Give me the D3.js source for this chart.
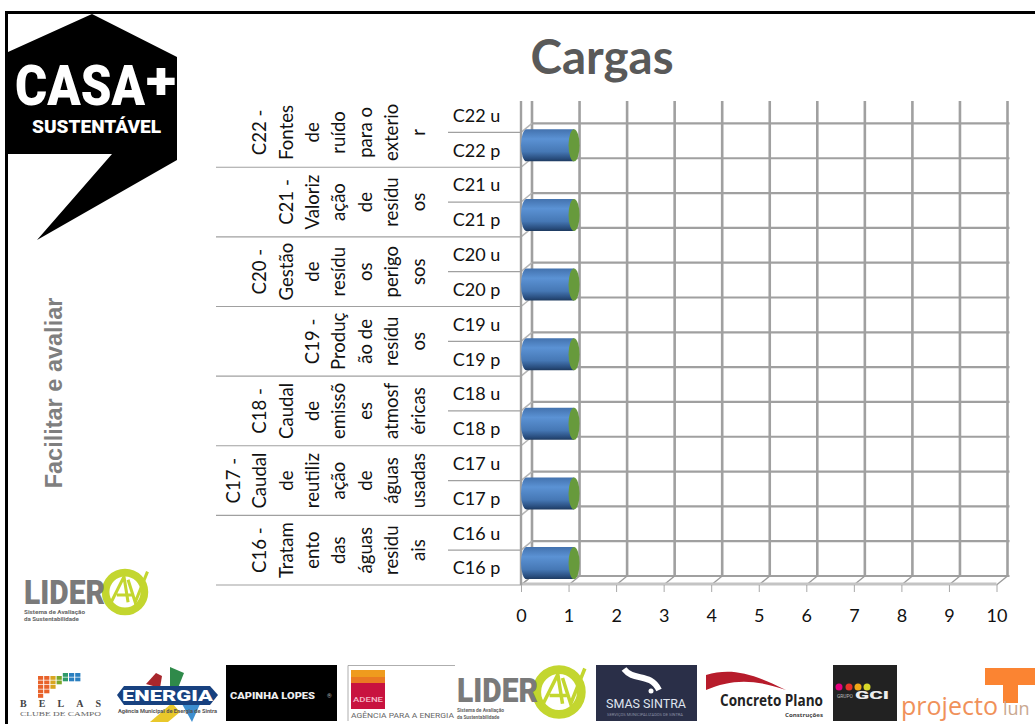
<!DOCTYPE html>
<html><head><meta charset="utf-8">
<style>html,body{margin:0;padding:0;background:#fff;overflow:hidden}svg{display:block}</style>
<script src="https://cdn.jsdelivr.net/npm/d3@7"></script></head>
<body><svg id="c" width="1035" height="724"></svg>
<script>
const titleText = "Cargas";
const sideText = "Facilitar e avaliar";
const groupLabels = [
  ["C22 -","Fontes","de","ruído","para o","exterio","r"],
  ["C21 -","Valoriz","ação","de","resídu","os"],
  ["C20 -","Gestão","de","resídu","os","perigo","sos"],
  ["C19 -","Produç","ão de","resídu","os"],
  ["C18 -","Caudal","de","emissõ","es","atmosf","éricas"],
  ["C17 -","Caudal","de","reutiliz","ação","de","águas","usadas"],
  ["C16 -","Tratam","ento","das","águas","residu","ais"]
];
const rowLabels = ["C22 u","C22 p","C21 u","C21 p","C20 u","C20 p","C19 u","C19 p","C18 u","C18 p","C17 u","C17 p","C16 u","C16 p"];
const rowValues = [0,1,0,1,0,1,0,1,0,1,0,1,0,1];
const xTicks = [0,1,2,3,4,5,6,7,8,9,10];

const svg = d3.select("#c");
const defs = svg.append("defs");
const font = "Lato, Carlito, sans-serif";
const x = d3.scaleLinear().domain([0,10]).range([521,996.5]);
const y = d3.scaleBand().domain(rowLabels).range([97.6,585]);
const dx = 11, dy = 9, wallTop = 101;
const grid = "#a0a0a0";

// frame
svg.append("path").attr("d","M6.5,724V12.5H1035").attr("fill","none").attr("stroke","#000").attr("stroke-width",3);

// title + side caption
svg.append("text").attr("x",602).attr("y",74).attr("text-anchor","middle").attr("font-family",font).attr("font-weight",700).attr("font-size",47.5).attr("fill","#595959").text(titleText);
svg.append("text").attr("transform","translate(61.5,393) rotate(-90)").attr("text-anchor","middle").attr("font-family","'Liberation Sans',Arial,sans-serif").attr("font-weight",700).attr("font-size",23.5).attr("fill","#7f7f7f").text(sideText);

// 3D walls
const g = svg.append("g");
const boundaries = rowLabels.map(r=>y(r)+y.bandwidth());
g.selectAll("line.back").data(xTicks).join("line").attr("class","back")
  .attr("x1",d=>x(d)+dx).attr("x2",d=>x(d)+dx).attr("y1",wallTop).attr("y2",585-dy)
  .attr("stroke",grid).attr("stroke-width",2.6);
g.selectAll("line.h").data(boundaries).join("line").attr("class","h")
  .attr("x1",x(0)+dx).attr("x2",x(10)+dx+2).attr("y1",d=>d-dy).attr("y2",d=>d-dy)
  .attr("stroke",grid).attr("stroke-width",2.2);
g.selectAll("line.side").data(boundaries).join("line").attr("class","side")
  .attr("x1",x(0)).attr("x2",x(0)+dx).attr("y1",d=>d).attr("y2",d=>d-dy)
  .attr("stroke","#b5b5b5").attr("stroke-width",1.5);
g.selectAll("line.floor").data(xTicks).join("line").attr("class","floor")
  .attr("x1",d=>x(d)).attr("x2",d=>x(d)+dx).attr("y1",585).attr("y2",585-dy)
  .attr("stroke","#9a9a9a").attr("stroke-width",1.3);
g.append("line").attr("x1",x(0)).attr("x2",x(10)).attr("y1",584).attr("y2",584).attr("stroke","#c4c4c4").attr("stroke-width",3);
g.append("line").attr("x1",x(0)).attr("x2",x(0)).attr("y1",wallTop).attr("y2",585).attr("stroke",grid).attr("stroke-width",2.4);

// row separators
const sub = svg.append("g").attr("stroke","#a0a0a0").attr("stroke-width",1.2);
rowLabels.forEach((r,i)=>{
  const yy = boundaries[i];
  sub.append("line").attr("x1",i%2? 216:448).attr("x2",x(0)).attr("y1",yy).attr("y2",yy);
});

// value axis
const ax = svg.append("g").attr("transform","translate(0,585)")
  .call(d3.axisBottom(x).tickValues(xTicks).tickFormat(d3.format("d")).tickSize(7).tickPadding(17));
ax.select(".domain").remove();
ax.selectAll("line").attr("stroke","#a8a8a8").attr("stroke-width",1);
ax.selectAll("text").attr("font-family",font).attr("font-size",18).attr("fill","#111");

// row labels
svg.append("g").selectAll("text").data(rowLabels).join("text")
  .attr("x",476.5).attr("y",d=>y(d)+y.bandwidth()/2+0.5).attr("dy","0.35em").attr("text-anchor","middle")
  .attr("font-family",font).attr("font-size",18).attr("fill","#111").text(d=>d);

// wrapped group labels
const bw = y.bandwidth()*2, lineGap = 26.4, lastLine = 418;
groupLabels.forEach((lines,gi)=>{
  const cy = 97.6 + bw*gi + bw/2;
  lines.forEach((t,i)=>{
    const lx = lastLine - lineGap*(lines.length-1-i);
    svg.append("text").attr("transform",`translate(${lx},${cy}) rotate(-90)`).attr("dy","0.35em")
      .attr("text-anchor","middle").attr("font-family",font).attr("font-size",18.6).attr("fill","#111").text(t);
  });
});

// cylinders
const lg = defs.append("linearGradient").attr("id","cyl").attr("x1",0).attr("x2",0).attr("y1",0).attr("y2",1);
[[0,"#4372ae"],[.3,"#5b92d4"],[.7,"#4678b5"],[.92,"#284c7c"],[1,"#1e3a5f"]].forEach(s=>lg.append("stop").attr("offset",s[0]).attr("stop-color",s[1]));
const bars = svg.append("g");
rowLabels.forEach((r,i)=>{
  const v = rowValues[i]; if(!v) return;
  const cy = y(r)+y.bandwidth()/2-dy/2, ry = 16, rx = dx/2;
  const a = x(0)+rx, b = x(v)+rx;
  bars.append("path").attr("d",`M${b},${cy-ry}H${a}A${rx},${ry} 0 0 0 ${a},${cy+ry}H${b}Z`).attr("fill","url(#cyl)");
  bars.append("ellipse").attr("cx",b).attr("cy",cy).attr("rx",rx).attr("ry",ry).attr("fill","#679a3c");
});

// ---------- decorative logos ----------
const L = svg.append("g");
function txt(p,s,xx,yy,size,fill,o={}){
  const t=p.append("text").attr("x",xx).attr("y",yy).attr("font-size",size).attr("fill",fill)
   .attr("font-family",o.f||"Roboto,sans-serif").attr("font-weight",o.w||700).attr("text-anchor",o.a||"start").text(s);
  if(o.len) t.attr("textLength",o.len).attr("lengthAdjust",o.adj||"spacingAndGlyphs");
  return t;
}
function shape(d,fill,extra={}){
  const p=L.append("path").attr("d",d).attr("fill",fill);
  Object.entries(extra).forEach(([k,v])=>p.attr(k,v));
  return p;
}
function box(xx,yy,w,h,fill){
  return L.append("rect").attr("x",xx).attr("y",yy).attr("width",w).attr("height",h).attr("fill",fill);
}
// CASA+ badge
shape("M92,14L177,57V160L37,240L112,154H8V52Z","#000");
txt(L,"CASA",15,105,56,"#fff",{len:130,w:900});
txt(L,"+",146,99,52,"#fff",{len:30,w:900});
txt(L,"SUSTENTÁVEL",32,133,18,"#fff",{len:129,w:900});

function lider(tx,ty,cx,cy,r,tiny){
  const s=r/23;
  const q=L.append("g").attr("transform",`translate(${cx},${cy}) scale(${s})`);
  q.append("circle").attr("r",19).attr("fill","#fff").attr("stroke","#c3d62f").attr("stroke-width",7.5);
  q.append("path").attr("d","M-15,13L-1,-15L3,10M-8,3H8M3,-12L10,10L22,-20").attr("fill","none").attr("stroke","#c3d62f").attr("stroke-width",3);
  txt(L,"LIDER",tx,ty,33,"#7a7a7a",{len:81,w:900});
  txt(L,"Sistema de Avaliação",tx,ty+10,5,"#666",{len:tiny});
  txt(L,"da Sustentabilidade",tx,ty+16.5,5,"#666",{len:tiny*0.9});
}
lider(24,604,125,592,23.5,61);
lider(457,702,559,692,27,47);

// Belas
const tileCols=["#e8622a","#e8622a","#d9a520","#7aa82a","#2e9a6a","#2a7fc0","#2a7fc0"];
d3.range(7).forEach(i=>d3.range(5-Math.min(i,3)).forEach(j=>{
  box(38+i*6.2,676+j*4.5+(i>3?-3:0),5.2,3.8,tileCols[i]);
}));
txt(L,"BELAS",20,707,10,"#444",{len:81,adj:"spacing",f:"'Liberation Serif',serif"});
txt(L,"CLUBE DE CAMPO",20,716,6,"#666",{len:81,f:"'Liberation Serif',serif",w:400});
// Energia
shape("M170,667L184,673L178,688H170Z","#2f8a4a");
shape("M146,684L156,673L162,676L160,688Z","#a8262c");
shape("M150,722L172,703L180,712L168,722Z","#e9c82b");
shape("M182,704L200,704L192,722Z","#3d8fd0");
shape("M117,695L124,686H210L218,695L210,705H124Z","#17417f");
txt(L,"ENERGIA",122,701,15,"#fff",{len:91,w:900});
txt(L,"Agência Municipal de Energia de Sintra",118,713,4.8,"#555",{len:99});
// Capinha Lopes
box(226,665,111,56,"#000");
txt(L,"CAPINHA LOPES",230,699,9.5,"#eee",{len:85,w:900});
txt(L,"®",327,698,6,"#aaa");
// Adene
shape("M348,721V665.5H455","none",{stroke:"#999","stroke-width":.8});
box(351,670,34,39,"#c8123f");
box(351,670,34,7,"#ef9b1e");
box(351,677,34,6,"#ea7a22");
txt(L,"ADENE",353,702,6.5,"#f5b5c5",{len:30,w:500});
txt(L,"AGÊNCIA PARA A ENERGIA",351,718,6.4,"#666",{len:103,w:400});
// SMAS
box(596,665,101,56,"#2a2f48");
shape("M624,669C634,682 650,672 659,690","none",{stroke:"#fff","stroke-width":6});
L.append("circle").attr("cx",651).attr("cy",691).attr("r",2.5).attr("fill","#fff");
txt(L,"SMAS SINTRA",606,708,13,"#dfe3ee",{len:80,w:400});
txt(L,"SERVIÇOS MUNICIPALIZADOS DE SINTRA",607,716,3.8,"#8a8fa5",{len:76,w:400});
// Concreto Plano
shape("M706,675C730,668 750,672 786,690C752,678 730,680 706,690Z","#b71c2b");
txt(L,"Concreto Plano",720,706,16,"#222",{len:103,w:700,f:"'Open Sans',sans-serif"});
txt(L,"Construções",785,717,6,"#444",{len:38,f:"'Open Sans',sans-serif"});
// GCI
box(833,665,64,56,"#222");
[["#e6007e",839],["#e6332a",849],["#f0a818",858],["#d7d82a",867]].forEach(d=>L.append("circle").attr("cx",d[1]).attr("cy",687).attr("r",3.5).attr("fill",d[0]));
txt(L,"GRUPO",837,698,4.5,"#bbb",{len:16,w:400});
txt(L,"GCI",855,699,10,"#eee",{len:34,w:900});
// projecto
shape("M985,668H1035V685H1018V703H1003V685H985Z","#fb8432");
txt(L,"projecto",901,715,25,"#f0915a",{len:97,w:400,f:"'Open Sans',sans-serif"});
txt(L,"lun",1003,715,18,"#c9a890",{w:400,f:"'Open Sans',sans-serif"});
</script></body></html>
